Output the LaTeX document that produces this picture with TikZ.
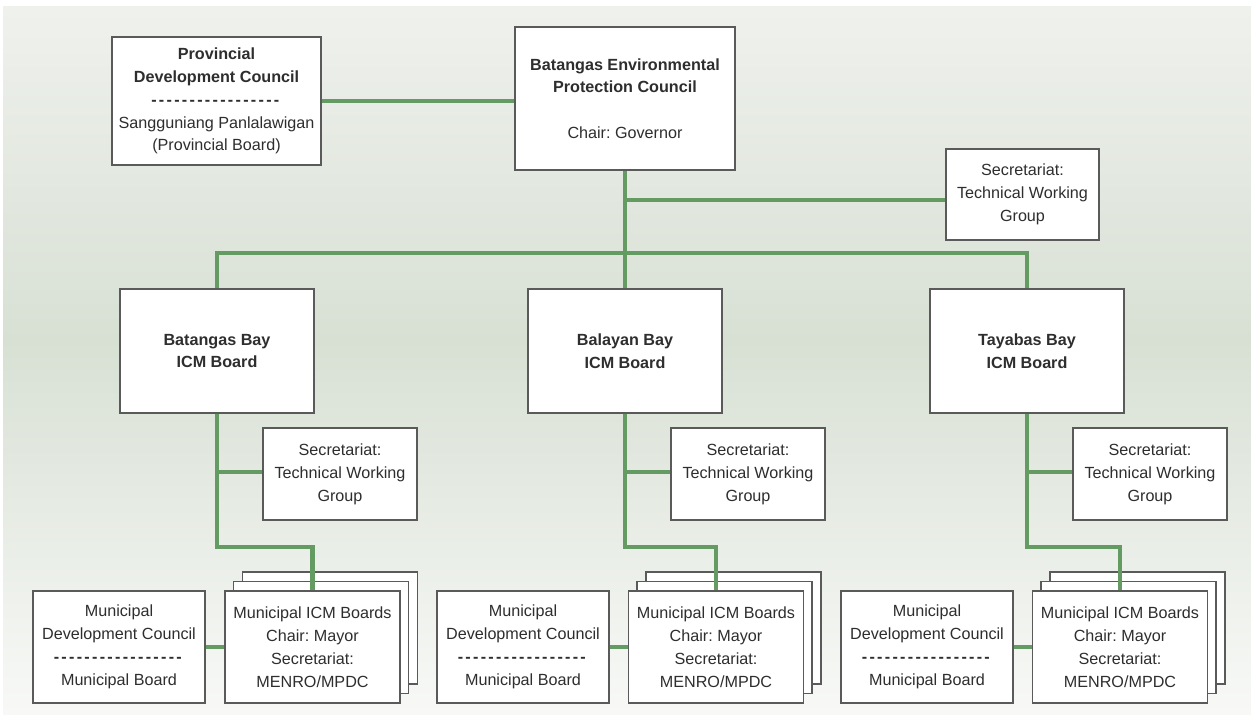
\documentclass[tikz,border=0pt]{standalone}
\usepackage{fontspec}
\setmainfont{Liberation Sans}
\frenchspacing
\definecolor{linegreen}{HTML}{639B63}
\definecolor{boxborder}{HTML}{5A5A5A}
\definecolor{txt}{HTML}{2E2E2E}
\definecolor{bgtop}{HTML}{EFF1ED}
\definecolor{bgmid}{HTML}{D8E0D4}
\definecolor{bgbot}{HTML}{F8F9F7}
\newcommand\dashrow{\foreach \i in {1,...,17}{\textbf{-}\kern1.3pt}}
\tikzset{
  orgbox/.style={draw=boxborder, line width=1.1pt, fill=white, text=txt, align=center,
    inner sep=2pt, font=\fontsize{9.2}{13}\selectfont\frenchspacing},
  conn/.style={draw=linegreen, line width=2.4pt},
}
\begin{document}
\begin{tikzpicture}[x=0.02cm, y=-0.02cm]
\useasboundingbox (0,0) rectangle (1251,715);
\fill[white] (0,0) rectangle (1251,715);
\shade[top color=bgtop, bottom color=bgmid] (3,7) rectangle (1251,340);
\shade[top color=bgmid, bottom color=bgbot] (3,340) rectangle (1251,715);

% top level
\node[orgbox, minimum width=209*0.02cm, minimum height=128*0.02cm] (pdc) at (216.5,101)
  {\textbf{Provincial}\\ \textbf{Development Council}\\ \dashrow\\ Sangguniang Panlalawigan\\ (Provincial Board)};
\node[orgbox, minimum width=220*0.02cm, minimum height=143*0.02cm] (bepc) at (625,98.5)
  {\textbf{Batangas Environmental}\\ \textbf{Protection Council}\\[13pt] Chair: Governor};
\node[orgbox, minimum width=153*0.02cm, minimum height=91*0.02cm] (sec0) at (1022.5,194.5)
  {Secretariat:\\ Technical Working\\ Group};

% ICM boards
\node[orgbox, minimum width=194*0.02cm, minimum height=124*0.02cm] (icm1) at (217,351)
  {\textbf{Batangas Bay}\\ \textbf{ICM Board}};
\node[orgbox, minimum width=194*0.02cm, minimum height=124*0.02cm] (icm2) at (625,351)
  {\textbf{Balayan Bay}\\ \textbf{ICM Board}};
\node[orgbox, minimum width=194*0.02cm, minimum height=124*0.02cm] (icm3) at (1027,351)
  {\textbf{Tayabas Bay}\\ \textbf{ICM Board}};

% lower secretariats
\foreach \n/\x in {sec1/340, sec2/748, sec3/1150}{
  \node[orgbox, minimum width=154*0.02cm, minimum height=92*0.02cm] (\n) at (\x,474)
    {Secretariat:\\ Technical Working\\ Group};
}

% stacks (back copies)
\foreach \n/\x in {1/312.5, 2/716, 3/1120}{
  \node[orgbox, minimum width=175*0.02cm, minimum height=112*0.02cm] (stb\n) at (\x+17.5,628) {};
  \node[orgbox, minimum width=175*0.02cm, minimum height=112*0.02cm] (stm\n) at (\x+8.5,637.5) {};
  \node[orgbox, minimum width=175*0.02cm, minimum height=112*0.02cm] (st\n) at (\x,647)
    {Municipal ICM Boards\\ Chair: Mayor\\ Secretariat:\\ MENRO/MPDC};
}

% municipal development councils
\foreach \n/\x in {1/119, 2/523, 3/927}{
  \node[orgbox, minimum width=172*0.02cm, minimum height=112*0.02cm] (mdc\n) at (\x,647)
    {Municipal\\ Development Council\\ \dashrow\\ Municipal Board};
}

% connectors
\coordinate (bus) at (625,253);
\coordinate (j0) at (625,200);
\draw[conn] (pdc.east) -- (pdc.east -| bepc.west);
\draw[conn] (bepc.south) -- (icm2.north);
\draw[conn] (j0) -- (j0 -| sec0.west);
\draw[conn] (icm1.north) -- (icm1.north |- bus) -| (icm3.north);

\foreach \i/\tx in {1/217, 2/625, 3/1027}{
  \coordinate (br\i) at (\tx,472);
  \coordinate (h\i) at (\tx,547);
  \draw[conn] (icm\i.south) -- (h\i) -| (st\i.north);
  \draw[conn] (br\i) -- (br\i -| sec\i.west);
  \draw[conn] (mdc\i.east) -- (st\i.west);
}
\end{tikzpicture}
\end{document}
